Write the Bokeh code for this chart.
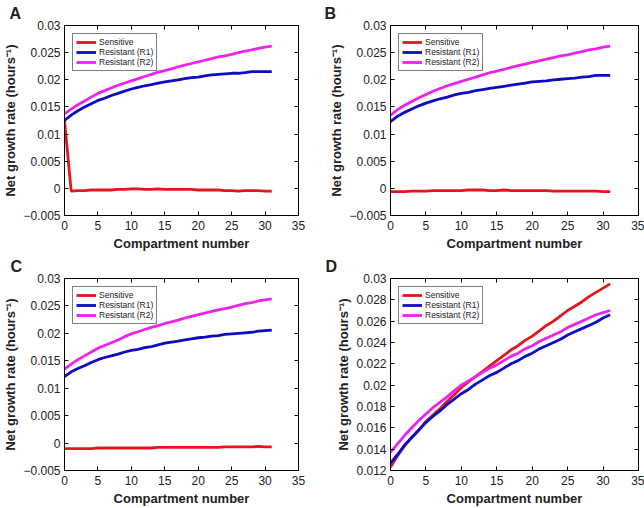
from bokeh.plotting import figure
from bokeh.layouts import gridplot
from bokeh.models import (FixedTicker, LinearAxis, Range1d, Legend, LegendItem,
                          CustomLabelingPolicy)
from bokeh.embed import file_html
from bokeh.resources import INLINE

compartments = list(range(32))

a_sensitive = [0.0125, -0.0005, -0.0004, -0.0004, -0.0003, -0.0003, -0.0003, -0.0003,
               -0.0002, -0.0002, -0.0001, -0.0001, -0.0002, -0.0002, -0.0001, -0.0002,
               -0.0002, -0.0002, -0.0002, -0.0002, -0.0003, -0.0003, -0.0003, -0.0003,
               -0.0004, -0.0004, -0.0005, -0.0004, -0.0004, -0.0004, -0.0005, -0.0005]
a_r1 = [0.0125, 0.0135, 0.0143, 0.0150, 0.0156, 0.0162, 0.0166, 0.0171,
        0.0175, 0.0179, 0.0183, 0.0186, 0.0189, 0.0191, 0.0194, 0.0196,
        0.0198, 0.0200, 0.0202, 0.0204, 0.0205, 0.0207, 0.0209, 0.0210,
        0.0211, 0.0212, 0.0212, 0.0213, 0.0215, 0.0215, 0.0215, 0.0215]
a_r2 = [0.0137, 0.0146, 0.0154, 0.0161, 0.0168, 0.0175, 0.0180, 0.0185,
        0.0190, 0.0194, 0.0198, 0.0202, 0.0206, 0.0210, 0.0214, 0.0217,
        0.0220, 0.0224, 0.0227, 0.0230, 0.0233, 0.0236, 0.0239, 0.0242,
        0.0244, 0.0247, 0.0250, 0.0253, 0.0255, 0.0258, 0.0260, 0.0262]

b_sensitive = [-0.0006, -0.0006, -0.0006, -0.0005, -0.0005, -0.0005, -0.0004, -0.0004,
               -0.0004, -0.0004, -0.0004, -0.0003, -0.0003, -0.0003, -0.0004, -0.0004,
               -0.0003, -0.0004, -0.0004, -0.0004, -0.0004, -0.0004, -0.0004, -0.0005,
               -0.0005, -0.0005, -0.0005, -0.0005, -0.0005, -0.0005, -0.0006, -0.0006]
b_r1 = [0.0123, 0.0133, 0.0140, 0.0146, 0.0152, 0.0157, 0.0161, 0.0165,
        0.0168, 0.0172, 0.0175, 0.0177, 0.0180, 0.0182, 0.0184, 0.0186,
        0.0188, 0.0190, 0.0192, 0.0194, 0.0196, 0.0197, 0.0198, 0.0200,
        0.0201, 0.0202, 0.0203, 0.0205, 0.0206, 0.0208, 0.0208, 0.0208]
b_r2 = [0.0135, 0.0145, 0.0153, 0.0160, 0.0167, 0.0173, 0.0179, 0.0184,
        0.0189, 0.0193, 0.0197, 0.0201, 0.0205, 0.0209, 0.0213, 0.0216,
        0.0219, 0.0223, 0.0226, 0.0229, 0.0232, 0.0235, 0.0238, 0.0241,
        0.0244, 0.0246, 0.0249, 0.0252, 0.0255, 0.0257, 0.0260, 0.0262]

c_sensitive = [-0.0010, -0.0010, -0.0010, -0.0010, -0.0010, -0.0009, -0.0009, -0.0009,
               -0.0009, -0.0009, -0.0009, -0.0009, -0.0009, -0.0009, -0.0008, -0.0008,
               -0.0008, -0.0008, -0.0008, -0.0008, -0.0008, -0.0008, -0.0008, -0.0008,
               -0.0007, -0.0007, -0.0007, -0.0007, -0.0007, -0.0006, -0.0007, -0.0007]
c_r1 = [0.0121, 0.0130, 0.0136, 0.0141, 0.0147, 0.0152, 0.0156, 0.0159,
        0.0162, 0.0166, 0.0169, 0.0171, 0.0174, 0.0176, 0.0179, 0.0182,
        0.0184, 0.0186, 0.0188, 0.0190, 0.0192, 0.0193, 0.0195, 0.0196,
        0.0198, 0.0199, 0.0200, 0.0201, 0.0202, 0.0204, 0.0205, 0.0206]
c_r2 = [0.0135, 0.0144, 0.0152, 0.0159, 0.0166, 0.0173, 0.0178, 0.0183,
        0.0188, 0.0194, 0.0199, 0.0203, 0.0207, 0.0211, 0.0214, 0.0218,
        0.0221, 0.0224, 0.0228, 0.0231, 0.0234, 0.0237, 0.0240, 0.0243,
        0.0245, 0.0248, 0.0251, 0.0254, 0.0256, 0.0259, 0.0261, 0.0263]

d_sensitive = [0.0123, 0.0134, 0.0143, 0.0151, 0.0158, 0.0166, 0.0172, 0.0178,
               0.0185, 0.0191, 0.0198, 0.0203, 0.0208, 0.0213, 0.0218, 0.0223,
               0.0228, 0.0233, 0.0237, 0.0242, 0.0246, 0.0251, 0.0256, 0.0260,
               0.0265, 0.0270, 0.0274, 0.0278, 0.0283, 0.0287, 0.0291, 0.0295]
d_r1 = [0.0127, 0.0135, 0.0144, 0.0151, 0.0158, 0.0165, 0.0171, 0.0176,
        0.0182, 0.0187, 0.0192, 0.0196, 0.0201, 0.0205, 0.0209, 0.0212,
        0.0216, 0.0220, 0.0223, 0.0227, 0.0230, 0.0234, 0.0237, 0.0240,
        0.0243, 0.0247, 0.0250, 0.0253, 0.0256, 0.0259, 0.0263, 0.0266]
d_r2 = [0.0137, 0.0145, 0.0153, 0.0160, 0.0167, 0.0173, 0.0179, 0.0184,
        0.0189, 0.0195, 0.0200, 0.0204, 0.0208, 0.0212, 0.0216, 0.0219,
        0.0223, 0.0227, 0.0230, 0.0234, 0.0237, 0.0241, 0.0244, 0.0247,
        0.0250, 0.0254, 0.0257, 0.0260, 0.0263, 0.0266, 0.0268, 0.0270]

x_ticks = [0, 5, 10, 15, 20, 25, 30, 35]
y_ticks_abc = [-0.005, 0.0, 0.005, 0.01, 0.015, 0.02, 0.025, 0.03]
y_labels_abc = ["\u22120.005", "0", "0.005", "0.01", "0.015", "0.02", "0.025", "0.03"]
y_ticks_d = [0.012, 0.014, 0.016, 0.018, 0.02, 0.022, 0.024, 0.026, 0.028, 0.03]
y_labels_d = ["0.012", "0.014", "0.016", "0.018", "0.02", "0.022", "0.024", "0.026", "0.028", "0.03"]

series_names = ["Sensitive", "Resistant (R1)", "Resistant (R2)"]
colors = ["#e3161c", "#0c0cc4", "#ee22ee"]

FONT = "Liberation Sans"
TEXT = "#222222"

NO_LABELS = "for (const i of indices) { indices.unset(i) } return indices"


def make_panel(letter, sens, r1, r2, y_range, y_ticks, y_labels, borders):
    left, right, top, bottom = borders
    p = figure(width=322, height=254, output_backend="svg", toolbar_location=None,
               x_range=Range1d(0, 35), y_range=Range1d(*y_range),
               min_border_left=left, min_border_right=right,
               min_border_top=top, min_border_bottom=bottom)
    p.xgrid.visible = False
    p.ygrid.visible = False
    p.outline_line_color = "black"
    p.outline_line_width = 1
    p.background_fill_color = "white"
    p.border_fill_color = "white"

    p.title.text = letter
    p.title.text_font = FONT
    p.title.text_font_size = "16px"
    p.title.text_font_style = "bold"
    p.title.text_color = TEXT
    p.title.align = "left"
    p.title.offset = -(left - 2)
    p.title.standoff = 0

    renderers = []
    for ys, c in zip([sens, r1, r2], colors):
        r = p.line(compartments, ys, line_color=c, line_width=2.8)
        renderers.append(r)

    xo = {t: str(t) for t in x_ticks}
    yo = {t: l for t, l in zip(y_ticks, y_labels)}

    for ax in p.xaxis:
        ax.ticker = FixedTicker(ticks=x_ticks)
        ax.major_label_overrides = xo
        ax.axis_label = "Compartment number"
        ax.major_label_standoff = 5
        ax.axis_label_standoff = 3
    for ax in p.yaxis:
        ax.ticker = FixedTicker(ticks=y_ticks)
        ax.major_label_overrides = yo
        ax.axis_label = "Net growth rate (hours\u207b\u00b9)"
        ax.major_label_standoff = 4
        ax.axis_label_standoff = 2

    for ax in list(p.xaxis) + list(p.yaxis):
        ax.major_tick_in = 4
        ax.major_tick_out = 0
        ax.minor_tick_line_color = None
        ax.axis_line_color = "black"
        ax.major_tick_line_color = "black"
        ax.major_label_text_font = FONT
        ax.major_label_text_font_size = "12px"
        ax.major_label_text_color = TEXT
        ax.axis_label_text_font = FONT
        ax.axis_label_text_font_size = "13px"
        ax.axis_label_text_font_style = "bold"
        ax.axis_label_text_color = TEXT

    top_ax = LinearAxis(ticker=FixedTicker(ticks=x_ticks),
                        major_label_policy=CustomLabelingPolicy(code=NO_LABELS),
                        major_label_text_font_size="1px",
                        major_tick_in=4, major_tick_out=0, minor_tick_line_color=None,
                        major_label_standoff=0, axis_line_color="black")
    right_ax = LinearAxis(ticker=FixedTicker(ticks=y_ticks),
                          major_label_policy=CustomLabelingPolicy(code=NO_LABELS),
                          major_label_text_font_size="1px",
                          major_tick_in=4, major_tick_out=0, minor_tick_line_color=None,
                          major_label_standoff=0, axis_line_color="black")
    p.add_layout(top_ax, "above")
    p.add_layout(right_ax, "right")

    legend = Legend(items=[LegendItem(label=n, renderers=[r]) for n, r in zip(series_names, renderers)],
                    location="top_left")
    legend.margin = 8
    legend.padding = 3
    legend.spacing = 0
    legend.label_text_font = FONT
    legend.label_text_font_size = "8.5px"
    legend.label_text_color = TEXT
    legend.label_height = 9
    legend.glyph_height = 10
    legend.glyph_width = 20
    legend.label_standoff = 3
    legend.border_line_color = "black"
    legend.border_line_width = 1
    legend.background_fill_alpha = 1
    p.add_layout(legend)
    return p


pA = make_panel("A", a_sensitive, a_r1, a_r2, (-0.005, 0.03), y_ticks_abc, y_labels_abc, (57, 24, 25, 39))
pB = make_panel("B", b_sensitive, b_r1, b_r2, (-0.005, 0.03), y_ticks_abc, y_labels_abc, (68, 6, 19, 39))
pC = make_panel("C", c_sensitive, c_r1, c_r2, (-0.005, 0.03), y_ticks_abc, y_labels_abc, (56, 24, 24, 37))
pD = make_panel("D", d_sensitive, d_r1, d_r2, (0.012, 0.03), y_ticks_d, y_labels_d, (67, 4, 24, 36))

grid = gridplot([[pA, pB], [pC, pD]], toolbar_location=None)

open("out.html", "w").write(file_html(grid, INLINE))
